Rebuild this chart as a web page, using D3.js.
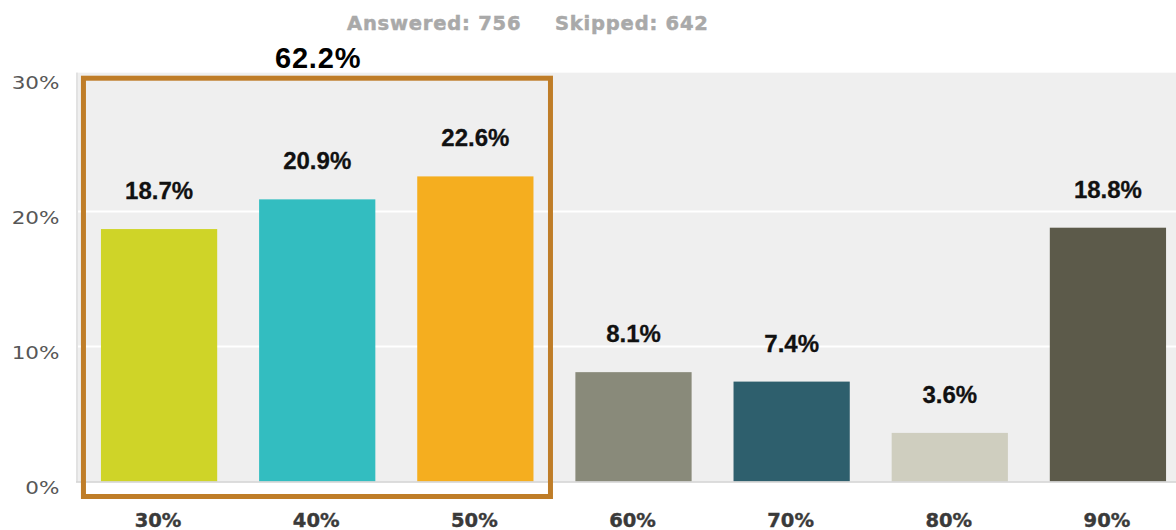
<!DOCTYPE html>
<html>
<head>
<meta charset="utf-8">
<script src="https://cdn.jsdelivr.net/npm/d3@7"></script>
<style>
  html, body { margin: 0; padding: 0; background: #fff; }
  svg { display: block; }
</style>
</head>
<body>
<svg id="chart" width="1176" height="530"></svg>
<script>
// Answer choices and their share of respondents (%)
const categories = ["30%", "40%", "50%", "60%", "70%", "80%", "90%"];
const values = [18.7, 20.9, 22.6, 8.1, 7.4, 3.6, 18.8];
const barColors = ["#cfd428", "#33bdc0", "#f5ae1f", "#898a7a", "#2e5f6d", "#cfcebf", "#5c5a4a"];
const yTicks = [0, 10, 20, 30];
const yTickLabels = ["0%", "10%", "20%", "30%"];
const answered = 756;
const skipped = 642;
// Grouped total for the first three choices
const highlighted = ["30%", "40%", "50%"];
const highlightLabel = "62.2%";

const svg = d3.select("#chart");
const left = 80, right = 1187, baseY = 481.5, topY = 76.5;

const x = d3.scaleBand().domain(categories).range([left, right])
  .paddingInner(0.265).paddingOuter(0.1325);
const y = d3.scaleLinear().domain([0, 30]).range([baseY, topY]);

// Plot background with a faint left edge
const plotTop = y(30) - 3.8;
svg.append("rect")
  .attr("x", 76).attr("y", plotTop)
  .attr("width", 1176 - 76).attr("height", baseY - plotTop)
  .attr("fill", "#efefef");
svg.append("rect")
  .attr("x", 76).attr("y", plotTop)
  .attr("width", 2).attr("height", baseY - plotTop)
  .attr("fill", "#e2e2e2");

// Gridlines
svg.append("g").selectAll("line").data(yTicks.filter(d => d > 0 && d < 30)).join("line")
  .attr("x1", 78).attr("x2", 1176)
  .attr("y1", d => y(d)).attr("y2", d => y(d))
  .attr("stroke", "#ffffff").attr("stroke-width", 2);

// Y axis labels (wide, light face)
svg.append("g").selectAll("text").data(yTicks).join("text")
  .attr("transform", d => `translate(59.5,${y(d) + 12.8}) scale(1.23,1)`)
  .attr("text-anchor", "end")
  .attr("font-family", "DejaVu Sans, Verdana, sans-serif")
  .attr("font-size", 17.5).attr("fill", "#575757")
  .text((d, i) => yTickLabels[i]);

// Bars
svg.append("g").selectAll("rect").data(categories).join("rect")
  .attr("x", d => x(d)).attr("width", x.bandwidth())
  .attr("y", (d, i) => y(values[i]))
  .attr("height", (d, i) => baseY - y(values[i]))
  .attr("fill", (d, i) => barColors[i]);

// Baseline
svg.append("line")
  .attr("x1", 76).attr("x2", 1176)
  .attr("y1", baseY + 0.5).attr("y2", baseY + 0.5)
  .attr("stroke", "#d2d2d2").attr("stroke-width", 1.6);

// Value labels
svg.append("g").selectAll("text").data(categories).join("text")
  .attr("x", d => x(d) + x.bandwidth() / 2)
  .attr("y", (d, i) => y(values[i]) - 30)
  .attr("text-anchor", "middle")
  .attr("font-family", "Liberation Sans, Arial, sans-serif")
  .attr("font-weight", "bold").attr("font-size", 24).attr("fill", "#111")
  .attr("stroke", "#111").attr("stroke-width", 0.3)
  .text((d, i) => values[i].toFixed(1) + "%");

// Category labels
svg.append("g").selectAll("text").data(categories).join("text")
  .attr("x", d => x(d) + x.bandwidth() / 2 - 1)
  .attr("y", 526.5)
  .attr("text-anchor", "middle")
  .attr("font-family", "DejaVu Sans, Verdana, sans-serif")
  .attr("font-weight", "bold").attr("font-size", 19.5).attr("fill", "#3a3a3a")
  .attr("stroke", "#3a3a3a").attr("stroke-width", 0.4)
  .text(d => d);

// Response counts
const countStyle = sel => sel
  .attr("font-family", "DejaVu Sans, Verdana, sans-serif")
  .attr("font-weight", "bold").attr("font-size", 19.5)
  .attr("letter-spacing", 0.8).attr("fill", "#a9a9a9")
  .attr("stroke", "#a9a9a9").attr("stroke-width", 0.5);
svg.append("text").attr("x", 347).attr("y", 29.5)
  .call(countStyle).text("Answered: " + answered);
svg.append("text").attr("x", 555).attr("y", 29.5)
  .call(countStyle).text("Skipped: " + skipped);

// Highlight box around grouped choices
const hx0 = x(highlighted[0]) - 17.5;
const hx1 = x(highlighted[highlighted.length - 1]) + x.bandwidth() + 17;
svg.append("rect")
  .attr("x", hx0).attr("y", y(30) + 1.7)
  .attr("width", hx1 - hx0).attr("height", baseY + 15 - y(30) - 1.7)
  .attr("fill", "none").attr("stroke", "#bf7d28").attr("stroke-width", 5);

svg.append("text")
  .attr("x", 275).attr("y", 68)
  .attr("font-family", "Liberation Sans, Arial, sans-serif")
  .attr("font-weight", "bold").attr("font-size", 29)
  .attr("letter-spacing", 0.8).attr("fill", "#000")
  .text(highlightLabel);
</script>
</body>
</html>
